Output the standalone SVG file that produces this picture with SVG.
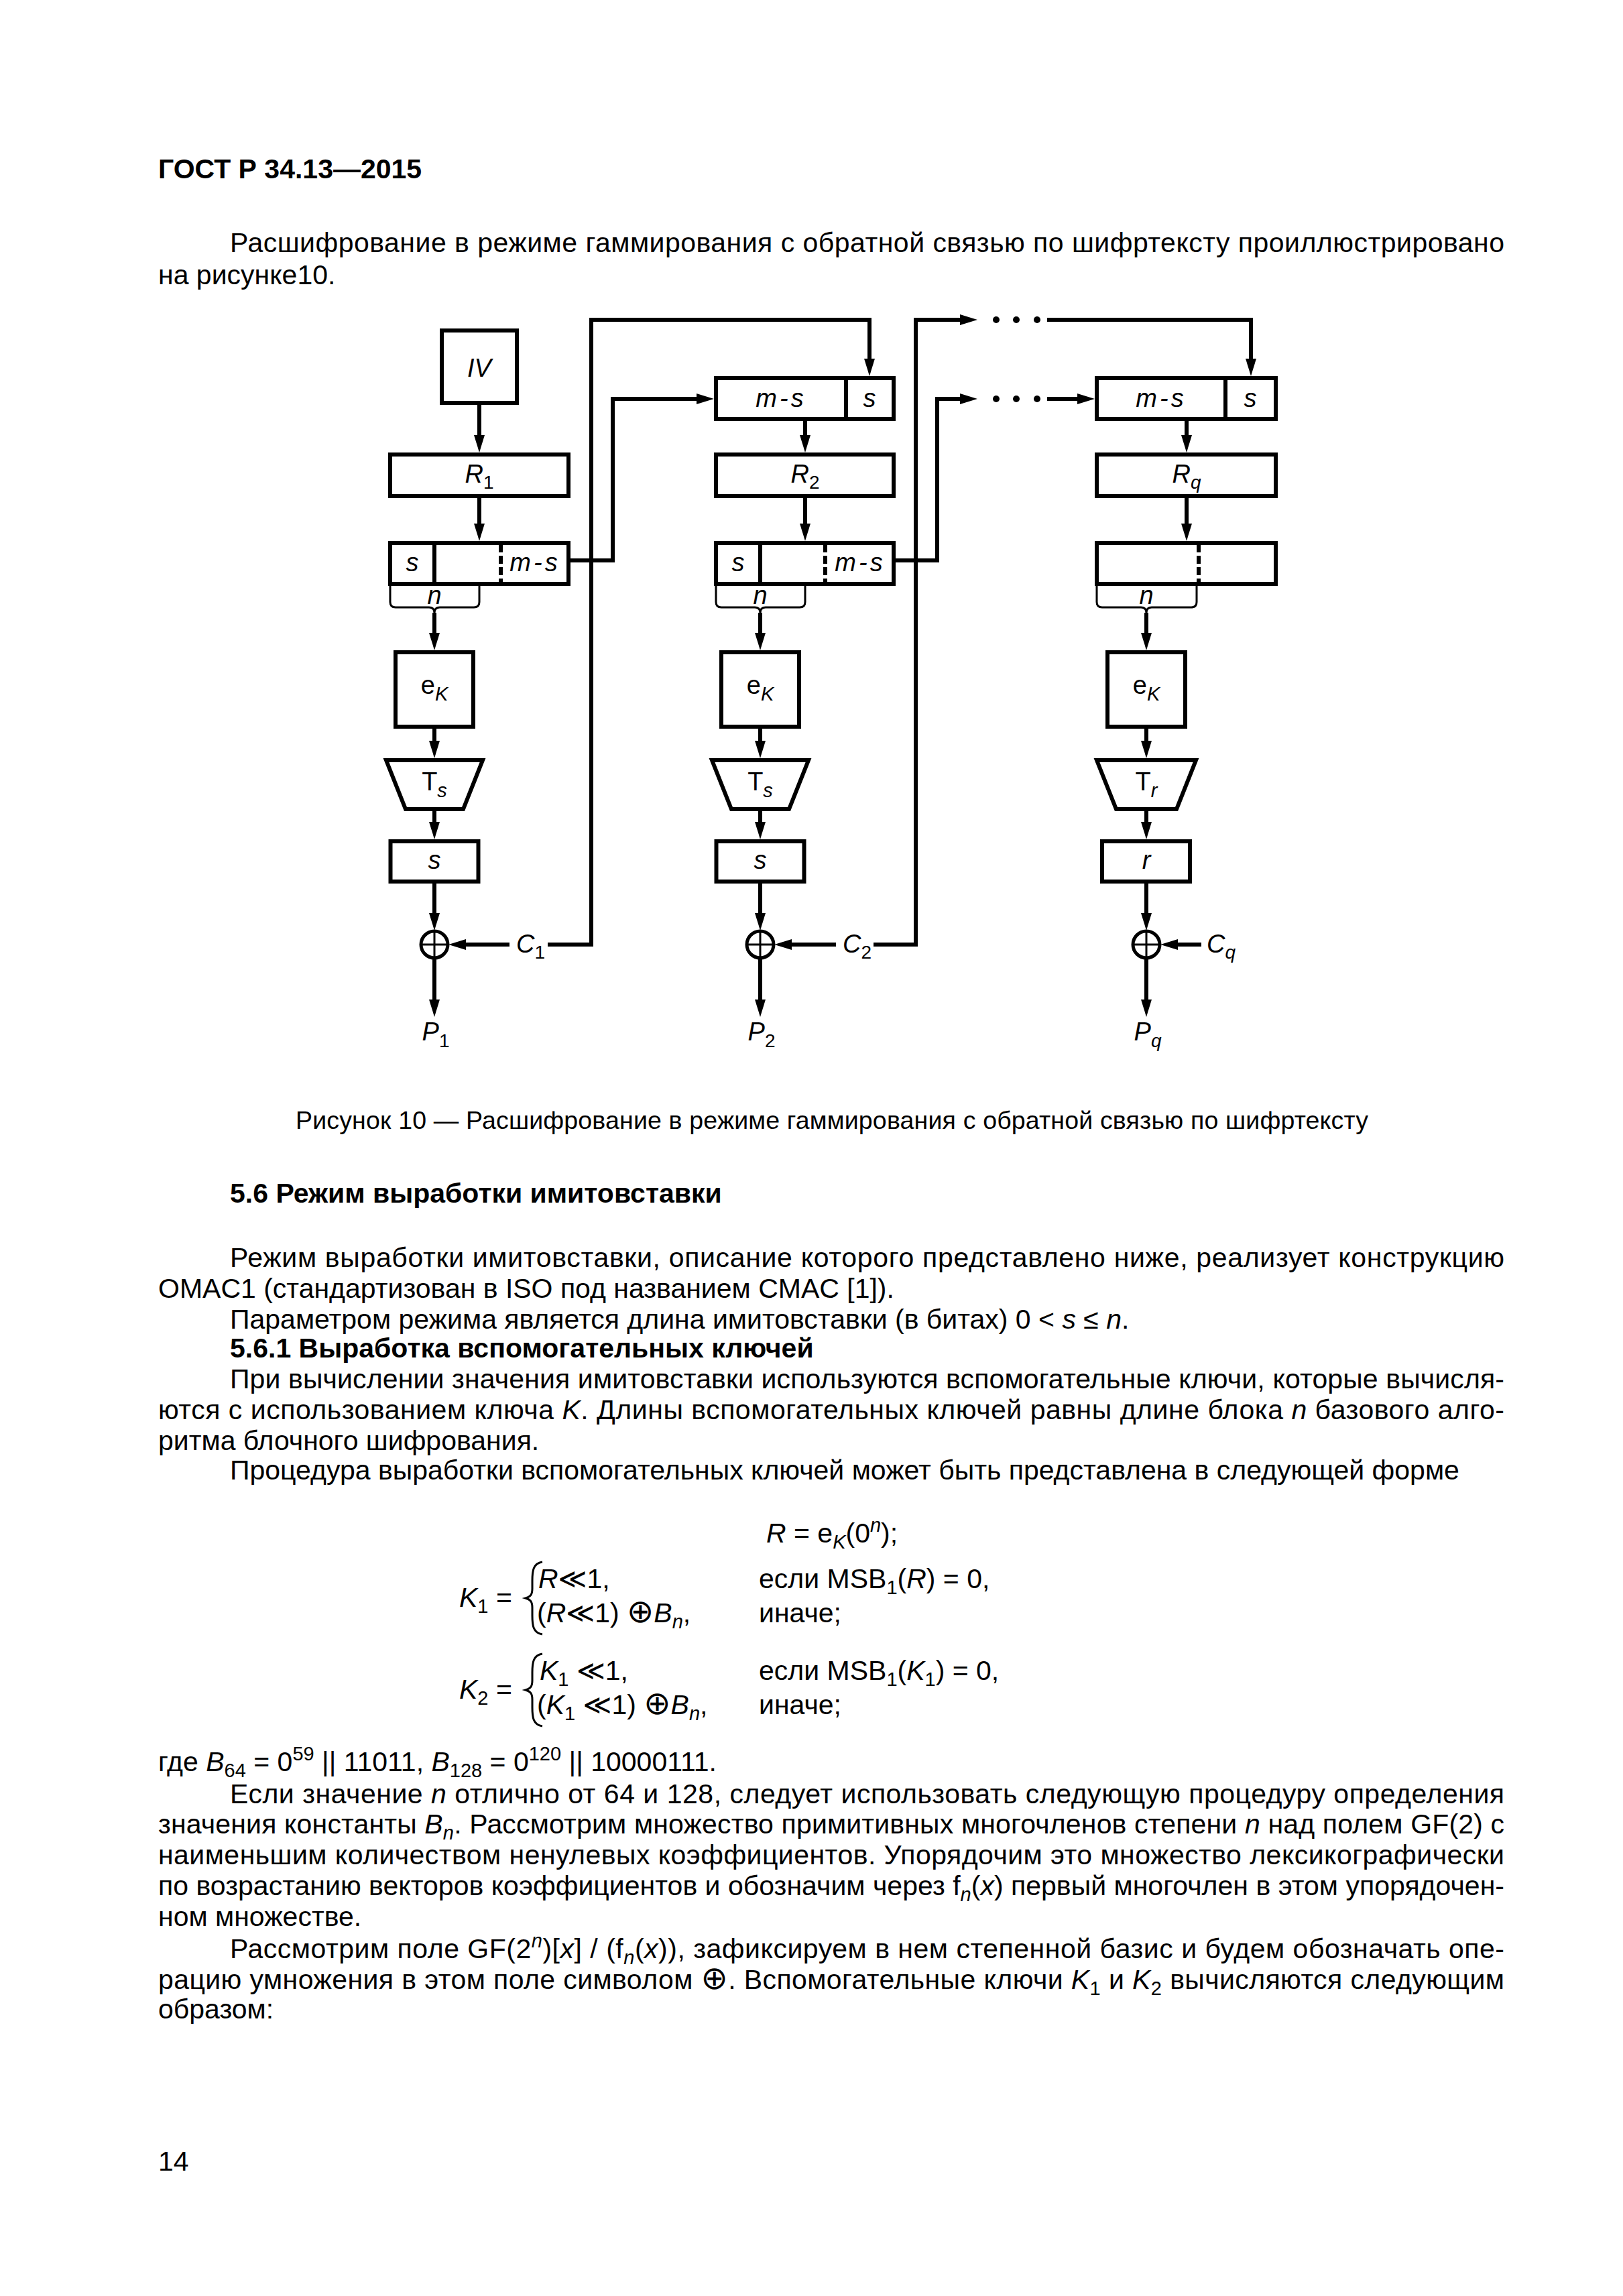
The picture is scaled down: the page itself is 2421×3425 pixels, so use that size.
<svg xmlns="http://www.w3.org/2000/svg" width="2421" height="3425" viewBox="0 0 2421 3425">
<defs>
<style>
.tx{font-family:"Liberation Sans",Arial,"DejaVu Sans",sans-serif;font-size:41px;fill:#000}
.b{font-weight:bold}
.i{font-style:italic}
.cap{font-size:37.5px}
.op{font-size:48px}
.lb{font-family:"Liberation Sans",Arial,"DejaVu Sans",sans-serif;font-size:38px;text-anchor:middle;fill:#000}
.bx{fill:#fff;stroke:#000;stroke-width:6}
.dv{stroke:#000;stroke-width:6;fill:none}
.ds{stroke:#000;stroke-width:6;fill:none;stroke-dasharray:12 5}
.br{stroke:#000;stroke-width:3;fill:none}
.cn{stroke:#000;stroke-width:6;fill:none;stroke-linejoin:miter}
.ar{marker-end:url(#ah)}
.xc{fill:#fff;stroke:#000;stroke-width:5}
.xl{stroke:#000;stroke-width:3}
</style>
<marker id="ah" viewBox="0 0 26 16" refX="6" refY="8" markerWidth="26" markerHeight="16" markerUnits="userSpaceOnUse" orient="auto"><path d="M0,0 L26,8 L0,16 z" fill="#000"/></marker>
</defs>
<rect width="2421" height="3425" fill="#fff"/>

<!-- page text -->
<g id="text-top" class="tx">
<text x="236" y="266" class="b">ГОСТ Р 34.13—2015</text>
<text x="343" y="376" textLength="1901" lengthAdjust="spacing">Расшифрование в режиме гаммирования с обратной связью по шифртексту проиллюстрировано</text>
<text x="236" y="424">на рисунке10.</text>
</g>

<!-- connectors -->
<g id="connectors">
<path class="cn ar" d="M715,604 V655"/>
<path class="cn ar" d="M715,742 V787"/>
<path class="cn ar" d="M648,914 V950"/>
<path class="cn ar" d="M648,1087 V1111"/>
<path class="cn ar" d="M648,1210 V1232"/>
<path class="cn ar" d="M648,1318 V1368"/>
<path class="cn ar" d="M648,1430 V1497"/>
<path class="cn ar" d="M760,1409 H689"/>
<path class="cn ar" d="M817,1409 H882 V477 H1297 V541"/>
<path class="cn ar" d="M851,836 H914 V595 H1045"/>

<path class="cn ar" d="M1201,628 V655"/>
<path class="cn ar" d="M1201,742 V787"/>
<path class="cn ar" d="M1134,914 V950"/>
<path class="cn ar" d="M1134,1087 V1111"/>
<path class="cn ar" d="M1134,1210 V1232"/>
<path class="cn ar" d="M1134,1318 V1368"/>
<path class="cn ar" d="M1134,1430 V1497"/>
<path class="cn ar" d="M1247,1409 H1175"/>
<path class="cn ar" d="M1303,1409 H1366 V477 H1438"/>
<path class="cn ar" d="M1336,836 H1398 V595 H1438"/>

<g fill="#000">
<circle cx="1486" cy="477" r="5"/><circle cx="1516" cy="477" r="5"/><circle cx="1547" cy="477" r="5"/>
<circle cx="1486" cy="595" r="5"/><circle cx="1516" cy="595" r="5"/><circle cx="1547" cy="595" r="5"/>
</g>
<path class="cn ar" d="M1562,477 H1866 V541"/>
<path class="cn ar" d="M1562,595 H1613"/>
<path class="cn ar" d="M1770,628 V655"/>
<path class="cn ar" d="M1770,742 V787"/>
<path class="cn ar" d="M1710,914 V950"/>
<path class="cn ar" d="M1710,1087 V1111"/>
<path class="cn ar" d="M1710,1210 V1232"/>
<path class="cn ar" d="M1710,1318 V1368"/>
<path class="cn ar" d="M1710,1430 V1497"/>
<path class="cn ar" d="M1792,1409 H1751"/>
</g>

<!-- column 1 -->
<g id="iv"><rect class="bx" x="659" y="493" width="112" height="108"/><text class="lb i" x="715" y="562">IV</text></g>
<g id="r1"><rect class="bx" x="582" y="678" width="266" height="62"/><text class="lb" x="715" y="720"><tspan class="i">R</tspan><tspan font-size="28" dy="9">1</tspan></text></g>
<g id="split1"><rect class="bx" x="582" y="810" width="266" height="61"/><line class="dv" x1="648" y1="810" x2="648" y2="871"/><line class="ds" x1="747" y1="812" x2="747" y2="871"/>
<text class="lb i" x="615" y="852">s</text><text class="lb i" x="798" y="852" letter-spacing="4">m-s</text></g>
<g id="brace1"><path class="br" d="M582,873 V898 Q582,906 590,906 H640 Q648,906 648,914 Q648,906 656,906 H707 Q715,906 715,898 V873"/><text class="lb i" x="648" y="901">n</text></g>
<g id="ek1"><rect class="bx" x="590" y="973" width="116" height="111"/><text class="lb" x="648" y="1035">e<tspan class="i" font-size="29" dy="10">K</tspan></text></g>
<g id="ts1"><polygon class="bx" points="576,1134 720,1134 691,1207 605,1207"/><text class="lb" x="648" y="1179">T<tspan class="i" font-size="29" dy="10">s</tspan></text></g>
<g id="s1"><rect class="bx" x="582.5" y="1255" width="131" height="60"/><text class="lb i" x="648" y="1296">s</text></g>
<g id="xor1"><circle class="xc" cx="648" cy="1409" r="20"/><line class="xl" x1="628" y1="1409" x2="668" y2="1409"/><line class="xl" x1="648" y1="1389" x2="648" y2="1429"/></g>
<g id="c1"><text class="lb" x="770" y="1421" style="text-anchor:start"><tspan class="i">C</tspan><tspan font-size="28" dy="9">1</tspan></text></g>
<g id="p1"><text class="lb" x="650" y="1552"><tspan class="i">P</tspan><tspan font-size="28" dy="10">1</tspan></text></g>

<!-- column 2 -->
<g id="in2"><rect class="bx" x="1068" y="564" width="265" height="61"/><line class="dv" x1="1262" y1="564" x2="1262" y2="625"/>
<text class="lb i" x="1165" y="607" letter-spacing="4">m-s</text><text class="lb i" x="1297" y="607">s</text></g>
<g id="r2"><rect class="bx" x="1068" y="678" width="265" height="62"/><text class="lb" x="1201" y="720"><tspan class="i">R</tspan><tspan font-size="28" dy="9">2</tspan></text></g>
<g id="split2"><rect class="bx" x="1068" y="810" width="265" height="61"/><line class="dv" x1="1134" y1="810" x2="1134" y2="871"/><line class="ds" x1="1231" y1="812" x2="1231" y2="871"/>
<text class="lb i" x="1101" y="852">s</text><text class="lb i" x="1283" y="852" letter-spacing="4">m-s</text></g>
<g id="brace2"><path class="br" d="M1068,873 V898 Q1068,906 1076,906 H1126 Q1134,906 1134,914 Q1134,906 1142,906 H1193 Q1201,906 1201,898 V873"/><text class="lb i" x="1134" y="901">n</text></g>
<g id="ek2"><rect class="bx" x="1076" y="973" width="116" height="111"/><text class="lb" x="1134" y="1035">e<tspan class="i" font-size="29" dy="10">K</tspan></text></g>
<g id="ts2"><polygon class="bx" points="1062,1134 1206,1134 1177,1207 1091,1207"/><text class="lb" x="1134" y="1179">T<tspan class="i" font-size="29" dy="10">s</tspan></text></g>
<g id="s2"><rect class="bx" x="1068.5" y="1255" width="131" height="60"/><text class="lb i" x="1134" y="1296">s</text></g>
<g id="xor2"><circle class="xc" cx="1134" cy="1409" r="20"/><line class="xl" x1="1114" y1="1409" x2="1154" y2="1409"/><line class="xl" x1="1134" y1="1389" x2="1134" y2="1429"/></g>
<g id="c2"><text class="lb" x="1257" y="1421" style="text-anchor:start"><tspan class="i">C</tspan><tspan font-size="28" dy="9">2</tspan></text></g>
<g id="p2"><text class="lb" x="1136" y="1552"><tspan class="i">P</tspan><tspan font-size="28" dy="10">2</tspan></text></g>

<!-- column q -->
<g id="inq"><rect class="bx" x="1636" y="564" width="267" height="61"/><line class="dv" x1="1828" y1="564" x2="1828" y2="625"/>
<text class="lb i" x="1732" y="607" letter-spacing="4">m-s</text><text class="lb i" x="1865" y="607">s</text></g>
<g id="rq"><rect class="bx" x="1636" y="678" width="267" height="62"/><text class="lb" x="1770" y="720"><tspan class="i">R</tspan><tspan class="i" font-size="28" dy="9">q</tspan></text></g>
<g id="splitq"><rect class="bx" x="1636" y="810" width="267" height="61"/><line class="ds" x1="1788" y1="812" x2="1788" y2="871"/></g>
<g id="braceq"><path class="br" d="M1636,873 V898 Q1636,906 1644,906 H1702 Q1710,906 1710,914 Q1710,906 1718,906 H1777 Q1785,906 1785,898 V873"/><text class="lb i" x="1710" y="901">n</text></g>
<g id="ekq"><rect class="bx" x="1652" y="973" width="116" height="111"/><text class="lb" x="1710" y="1035">e<tspan class="i" font-size="29" dy="10">K</tspan></text></g>
<g id="trq"><polygon class="bx" points="1636,1134 1784,1134 1755,1207 1665,1207"/><text class="lb" x="1710" y="1179">T<tspan class="i" font-size="29" dy="10">r</tspan></text></g>
<g id="rbq"><rect class="bx" x="1644" y="1255" width="131" height="60"/><text class="lb i" x="1710" y="1296">r</text></g>
<g id="xorq"><circle class="xc" cx="1710" cy="1409" r="20"/><line class="xl" x1="1690" y1="1409" x2="1730" y2="1409"/><line class="xl" x1="1710" y1="1389" x2="1710" y2="1429"/></g>
<g id="cq"><text class="lb" x="1800" y="1421" style="text-anchor:start"><tspan class="i">C</tspan><tspan class="i" font-size="28" dy="9">q</tspan></text></g>
<g id="pq"><text class="lb" x="1712" y="1552"><tspan class="i">P</tspan><tspan class="i" font-size="28" dy="10">q</tspan></text></g>

<!-- caption and following text -->
<g id="text-mid" class="tx">
<text x="441" y="1684" class="cap" textLength="1600" lengthAdjust="spacing">Рисунок 10 — Расшифрование в режиме гаммирования с обратной связью по шифртексту</text>
<text x="343" y="1794" class="b">5.6 Режим выработки имитовставки</text>
<text x="343" y="1890" textLength="1901" lengthAdjust="spacing">Режим выработки имитовставки, описание которого представлено ниже, реализует конструкцию</text>
<text x="236" y="1936">OMAC1 (стандартизован в ISO под названием CMAC [1]).</text>
<text x="343" y="1982">Параметром режима является длина имитовставки (в битах) 0 &lt; <tspan class="i">s</tspan> ≤ <tspan class="i">n</tspan>.</text>
<text x="343" y="2025" class="b">5.6.1 Выработка вспомогательных ключей</text>
<text x="343" y="2071" textLength="1901" lengthAdjust="spacing">При вычислении значения имитовставки используются вспомогательные ключи, которые вычисля-</text>
<text x="236" y="2117" textLength="2008" lengthAdjust="spacing">ются с использованием ключа <tspan class="i">K</tspan>. Длины вспомогательных ключей равны длине блока <tspan class="i">n</tspan> базового алго-</text>
<text x="236" y="2163">ритма блочного шифрования.</text>
<text x="343" y="2207">Процедура выработки вспомогательных ключей может быть представлена в следующей форме</text>
</g>

<!-- formulas -->
<g id="formulas" class="tx">
<text x="1143" y="2301"><tspan class="i">R</tspan> = e<tspan class="i" font-size="29" dy="9">K</tspan><tspan dy="-9">(0</tspan><tspan class="i" font-size="29" dy="-16">n</tspan><tspan dy="16">);</tspan></text>
<text x="685" y="2397"><tspan class="i">K</tspan><tspan font-size="29" dy="9">1</tspan><tspan dy="-9"> =</tspan></text>
<path class="br" d="M809,2330 C795,2332 794,2344 794,2358 L794,2370 C794,2379 791,2382 784,2384 C791,2386 794,2389 794,2398 L794,2410 C794,2424 795,2436 809,2438"/>
<text x="803" y="2369"><tspan class="i">R</tspan>≪1,</text>
<text x="801" y="2420">(<tspan class="i">R</tspan>≪1) <tspan class="op">⊕</tspan><tspan class="i">B</tspan><tspan class="i" font-size="29" dy="9">n</tspan><tspan dy="-9">,</tspan></text>
<text x="1132" y="2369">если MSB<tspan font-size="29" dy="9">1</tspan><tspan dy="-9">(</tspan><tspan class="i">R</tspan>) = 0,</text>
<text x="1132" y="2420">иначе;</text>
<text x="685" y="2534"><tspan class="i">K</tspan><tspan font-size="29" dy="9">2</tspan><tspan dy="-9"> =</tspan></text>
<path class="br" d="M809,2467 C795,2469 794,2481 794,2495 L794,2507 C794,2516 791,2519 784,2521 C791,2523 794,2526 794,2535 L794,2547 C794,2561 795,2573 809,2575"/>
<text x="805" y="2506"><tspan class="i">K</tspan><tspan font-size="29" dy="9">1</tspan><tspan dy="-9"> ≪1,</tspan></text>
<text x="801" y="2557">(<tspan class="i">K</tspan><tspan font-size="29" dy="9">1</tspan><tspan dy="-9"> ≪1) </tspan><tspan class="op">⊕</tspan><tspan class="i">B</tspan><tspan class="i" font-size="29" dy="9">n</tspan><tspan dy="-9">,</tspan></text>
<text x="1132" y="2506">если MSB<tspan font-size="29" dy="9">1</tspan><tspan dy="-9">(</tspan><tspan class="i">K</tspan><tspan font-size="29" dy="9">1</tspan><tspan dy="-9">) = 0,</tspan></text>
<text x="1132" y="2557">иначе;</text>
</g>

<g id="text-bottom" class="tx">
<text x="236" y="2642">где <tspan class="i">B</tspan><tspan font-size="29" dy="9">64</tspan><tspan dy="-9"> = 0</tspan><tspan font-size="29" dy="-16">59</tspan><tspan dy="16"> || 11011, </tspan><tspan class="i">B</tspan><tspan font-size="29" dy="9">128</tspan><tspan dy="-9"> = 0</tspan><tspan font-size="29" dy="-16">120</tspan><tspan dy="16"> || 10000111.</tspan></text>
<text x="343" y="2690" textLength="1901" lengthAdjust="spacing">Если значение <tspan class="i">n</tspan> отлично от 64 и 128, следует использовать следующую процедуру определения</text>
<text x="236" y="2735" textLength="2008" lengthAdjust="spacing">значения константы <tspan class="i">B</tspan><tspan class="i" font-size="29" dy="9">n</tspan><tspan dy="-9">. Рассмотрим множество примитивных многочленов степени </tspan><tspan class="i">n</tspan> над полем GF(2) с</text>
<text x="236" y="2781" textLength="2008" lengthAdjust="spacing">наименьшим количеством ненулевых коэффициентов. Упорядочим это множество лексикографически</text>
<text x="236" y="2827" textLength="2008" lengthAdjust="spacing">по возрастанию векторов коэффициентов и обозначим через f<tspan class="i" font-size="29" dy="9">n</tspan><tspan dy="-9">(</tspan><tspan class="i">x</tspan>) первый многочлен в этом упорядочен-</text>
<text x="236" y="2873">ном множестве.</text>
<text x="343" y="2921" textLength="1901" lengthAdjust="spacing">Рассмотрим поле GF(2<tspan class="i" font-size="29" dy="-16">n</tspan><tspan dy="16">)[</tspan><tspan class="i">x</tspan>] / (f<tspan class="i" font-size="29" dy="9">n</tspan><tspan dy="-9">(</tspan><tspan class="i">x</tspan>)), зафиксируем в нем степенной базис и будем обозначать опе-</text>
<text x="236" y="2967" textLength="2008" lengthAdjust="spacing">рацию умножения в этом поле символом <tspan class="op">⊕</tspan>. Вспомогательные ключи <tspan class="i">K</tspan><tspan font-size="29" dy="9">1</tspan><tspan dy="-9"> и </tspan><tspan class="i">K</tspan><tspan font-size="29" dy="9">2</tspan><tspan dy="-9"> вычисляются следующим</tspan></text>
<text x="236" y="3011">образом:</text>
<text x="236" y="3238">14</text>
</g>
</svg>
